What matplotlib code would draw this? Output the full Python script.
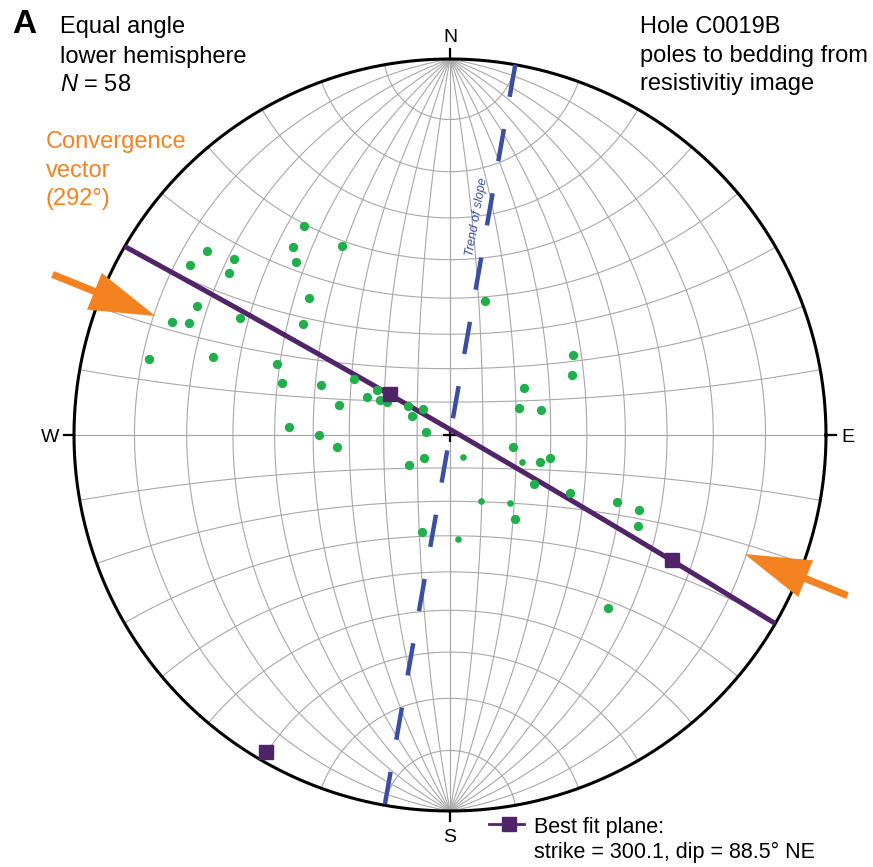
import numpy as np
import matplotlib.pyplot as plt

plt.rcParams['font.family'] = ['Liberation Sans', 'DejaVu Sans']
plt.rcParams['lines.scale_dashes'] = False
plt.rcParams['mathtext.fontset'] = 'custom'
plt.rcParams['mathtext.it'] = 'Liberation Sans:italic'
plt.rcParams['mathtext.rm'] = 'Liberation Sans'

# poles to bedding, projected positions on the net (x east, y north, net radius = 1)
pole_x = [-0.387, -0.647, -0.691, -0.575, -0.588, -0.418, -0.410, -0.288, -0.374, -0.672,
          -0.739, -0.695, -0.558, -0.390, -0.801, -0.630, -0.460, -0.447, -0.343, -0.255,
          -0.296, -0.429, -0.349, -0.301, -0.195, -0.222, -0.186, -0.168, -0.112, -0.071,
          -0.100, -0.065, -0.109, -0.068, 0.326, 0.324, 0.197, 0.183, 0.241, 0.167,
          0.240, 0.266, 0.223, 0.320, 0.444, 0.503, 0.500, 0.172, -0.074, 0.093,
          0.420]
pole_y = [0.556, 0.490, 0.452, 0.469, 0.430, 0.501, 0.459, 0.503, 0.364, 0.344,
          0.301, 0.297, 0.311, 0.295, 0.202, 0.207, 0.189, 0.139, 0.134, 0.149,
          0.081, 0.021, 0.000, -0.032, 0.120, 0.102, 0.093, 0.087, 0.078, 0.070,
          0.051, 0.007, -0.080, -0.062, 0.214, 0.160, 0.124, 0.071, 0.066, -0.032,
          -0.072, -0.060, -0.131, -0.153, -0.178, -0.200, -0.242, -0.223, -0.258, 0.356,
          -0.460]
# smaller symbols
small_x = [0.035, 0.192, 0.083, 0.159, 0.020]
small_y = [-0.059, -0.072, -0.176, -0.180, -0.277]

n_poles = 58
strike, dip = 300.1, 88.5
slope_trend = 10.0
convergence = 292.0
mark_x = [-0.160, 0.590]
mark_y = [0.109, -0.332]

green = '#20b04b'
purple = '#51246a'
blue = '#3a4fa3'
orange = '#f58220'
grey = '#a8a8a8'


def project(v):
    # equal angle, lower hemisphere
    return v[..., 0] / (1 - v[..., 2]), v[..., 1] / (1 - v[..., 2])


def plane_curve(strike, dip, n=361):
    s = np.radians(strike)
    dd = s + np.pi / 2
    d = np.radians(dip)
    sv = np.array([np.sin(s), np.cos(s), 0.0])
    dv = np.array([np.sin(dd) * np.cos(d), np.cos(dd) * np.cos(d), -np.sin(d)])
    t = np.linspace(0, np.pi, n)
    v = np.outer(np.cos(t), sv) + np.outer(np.sin(t), dv)
    return project(v)


fig = plt.figure(figsize=(8.73, 8.67), dpi=100)
ax = fig.add_axes([0, 0, 1, 1])
ax.set_xlim(-450 / 376, 423 / 376)
ax.set_ylim(-432 / 376, 435 / 376)
ax.axis('off')

# Wulff net
for d in range(10, 91, 10):
    for s in (0, 180):
        gx, gy = plane_curve(s, d)
        ax.plot(gx, gy, color=grey, lw=0.8, zorder=1)
phi = np.linspace(0, np.pi, 181)
for a in range(10, 91, 10):
    ar = np.radians(a)
    for sign in (1, -1):
        v = np.stack([np.sin(ar) * np.cos(phi),
                      sign * np.cos(ar) * np.ones_like(phi),
                      -np.sin(ar) * np.sin(phi)], axis=-1)
        sx, sy = project(v)
        ax.plot(sx, sy, color=grey, lw=0.8, zorder=1)

th = np.linspace(0, 2 * np.pi, 721)
ax.plot(np.cos(th), np.sin(th), color='black', lw=2.2, zorder=3)
for az in (0, 90, 180, 270):
    u = np.array([np.sin(np.radians(az)), np.cos(np.radians(az))])
    ax.plot([u[0], 1.026 * u[0]], [u[1], 1.026 * u[1]], color='black', lw=1.6, zorder=3)
ax.plot(0, 0, marker='+', ms=10, mew=1.6, color='black', zorder=3)

# trend of slope
ts = np.radians(slope_trend)
ax.plot([np.sin(ts), -np.sin(ts)], [np.cos(ts), -np.cos(ts)], color=blue, lw=3.2,
        ls=(0, (23.5, 23.5)), dash_capstyle='butt', zorder=4)
ax.text(0.585 * np.sin(ts) - 0.03 * np.cos(ts), 0.585 * np.cos(ts) + 0.03 * np.sin(ts),
        'Trend of slope', color=blue, style='italic', fontsize=9,
        rotation=90 - slope_trend, ha='center', va='center', zorder=4)

# best fit plane and its pole
bx, by = plane_curve(strike, dip)
ax.plot(bx, by, color=purple, lw=3.6, solid_capstyle='butt', zorder=5)
pt, pp = np.radians(strike + 90 + 180), np.radians(90 - dip)
pole = np.array([np.sin(pt) * np.cos(pp), np.cos(pt) * np.cos(pp), -np.sin(pp)])
px_, py_ = project(pole)
ax.plot(px_, py_, marker='s', ms=10, color=purple, zorder=7)

ax.scatter(pole_x, pole_y, s=45, color=green, linewidths=0, zorder=6)
ax.scatter(small_x, small_y, s=23, color=green, linewidths=0, zorder=6)
ax.plot(mark_x, mark_y, 's', ms=10, color=purple, zorder=7)

# convergence vector arrows
for az in (convergence, convergence - 180):
    u = np.array([np.sin(np.radians(az)), np.cos(np.radians(az))])
    tail, tip = 1.14 * u, 0.845 * u
    ax.arrow(tail[0], tail[1], tip[0] - tail[0], tip[1] - tail[1], width=0.019,
             head_width=0.105, head_length=0.175, length_includes_head=True,
             color=orange, lw=0, zorder=8)

# direction labels
ax.text(0, 1.044, 'N', ha='center', va='baseline', fontsize=14)
ax.text(0, -1.082, 'S', ha='center', va='baseline', fontsize=14)
ax.text(-1.040, -0.019, 'W', ha='right', va='baseline', fontsize=14)
ax.text(1.040, -0.019, 'E', ha='left', va='baseline', fontsize=14)

# legend
ax.plot([0.104, 0.197], [-1.035, -1.035], color=purple, lw=2)
ax.plot(0.158, -1.035, 's', ms=9.5, color=purple)
ax.text(0.223, -1.059, 'Best fit plane:', fontsize=15.5, va='baseline')
ax.text(0.223, -1.125, f'strike = {strike}, dip = {dip}° NE', fontsize=15.5, va='baseline')


def ftext(x, y, s, **kw):
    fig.text(x / 873, 1 - y / 867, s, va='baseline', **kw)


ftext(12, 33, 'A', fontsize=24, fontweight='bold')
ftext(60, 33, 'Equal angle', fontsize=17)
ftext(60, 62.7, 'lower hemisphere', fontsize=17)
ftext(60, 90.7, f'$N$ = {n_poles}', fontsize=17)
ftext(640, 33, 'Hole C0019B', fontsize=17)
ftext(640, 62, 'poles to bedding from', fontsize=17)
ftext(640, 90, 'resistivitiy image', fontsize=17)
ftext(45.7, 148, 'Convergence', fontsize=17, color=orange)
ftext(45.7, 177, 'vector', fontsize=17, color=orange)
ftext(45.7, 205, f'({convergence:.0f}°)', fontsize=17, color=orange)

fig.savefig('out.png', dpi=100)
